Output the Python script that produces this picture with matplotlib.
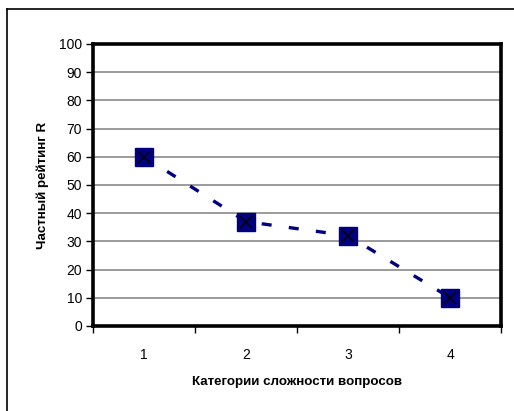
import matplotlib.pyplot as plt
from matplotlib.lines import Line2D

plt.rcParams['font.family'] = ['Liberation Sans', 'DejaVu Sans']

categories = [1, 2, 3, 4]
ratings = [60, 37, 32, 10]

fig = plt.figure(figsize=(5.14, 4.11), dpi=100)
ax = fig.add_axes([0.181, 0.207, 0.794, 0.686])

# chart area frame (left and top edges visible)
fig.add_artist(Line2D([0.0136, 0.0136], [0.0, 0.978], color='black', lw=1.2))
fig.add_artist(Line2D([0.0136, 1.0], [0.978, 0.978], color='black', lw=1.2))

navy = '#000080'
line, = ax.plot(categories, ratings, color=navy, lw=2.4, zorder=3)
line.set_dashes([3.0, 5.2])
line.set_dash_capstyle('butt')
ax.plot(categories, ratings, ls='none', marker='s', ms=12.5, mfc=navy,
        mec=navy, zorder=4)
ax.plot(categories, ratings, ls='none', marker='x', ms=9, mew=1.1,
        color='black', zorder=5)

ax.set_xlim(0.5, 4.5)
ax.set_ylim(0, 100)
ax.set_yticks(range(0, 101, 10))
ax.yaxis.grid(True, color='#808080', lw=1.1)
ax.set_axisbelow(True)

ax.set_xticks([0.5, 1.5, 2.5, 3.5, 4.5])
ax.set_xticklabels([])
ax.set_xticks(categories, minor=True)
ax.set_xticklabels([str(c) for c in categories], minor=True)
ax.tick_params(axis='x', which='minor', length=0, pad=16, labelsize=10)
ax.tick_params(axis='x', which='major', length=5, width=1)
ax.tick_params(axis='y', length=5, width=1, labelsize=10, pad=3)

for s in ax.spines.values():
    s.set_linewidth(2.6)

ax.set_xlabel('Категории сложности вопросов', fontsize=9.6, fontweight='bold',
              labelpad=10)
ax.set_ylabel('Частный рейтинг R', fontsize=9.6, fontweight='bold', labelpad=7)

fig.savefig('out.png', dpi=100)
